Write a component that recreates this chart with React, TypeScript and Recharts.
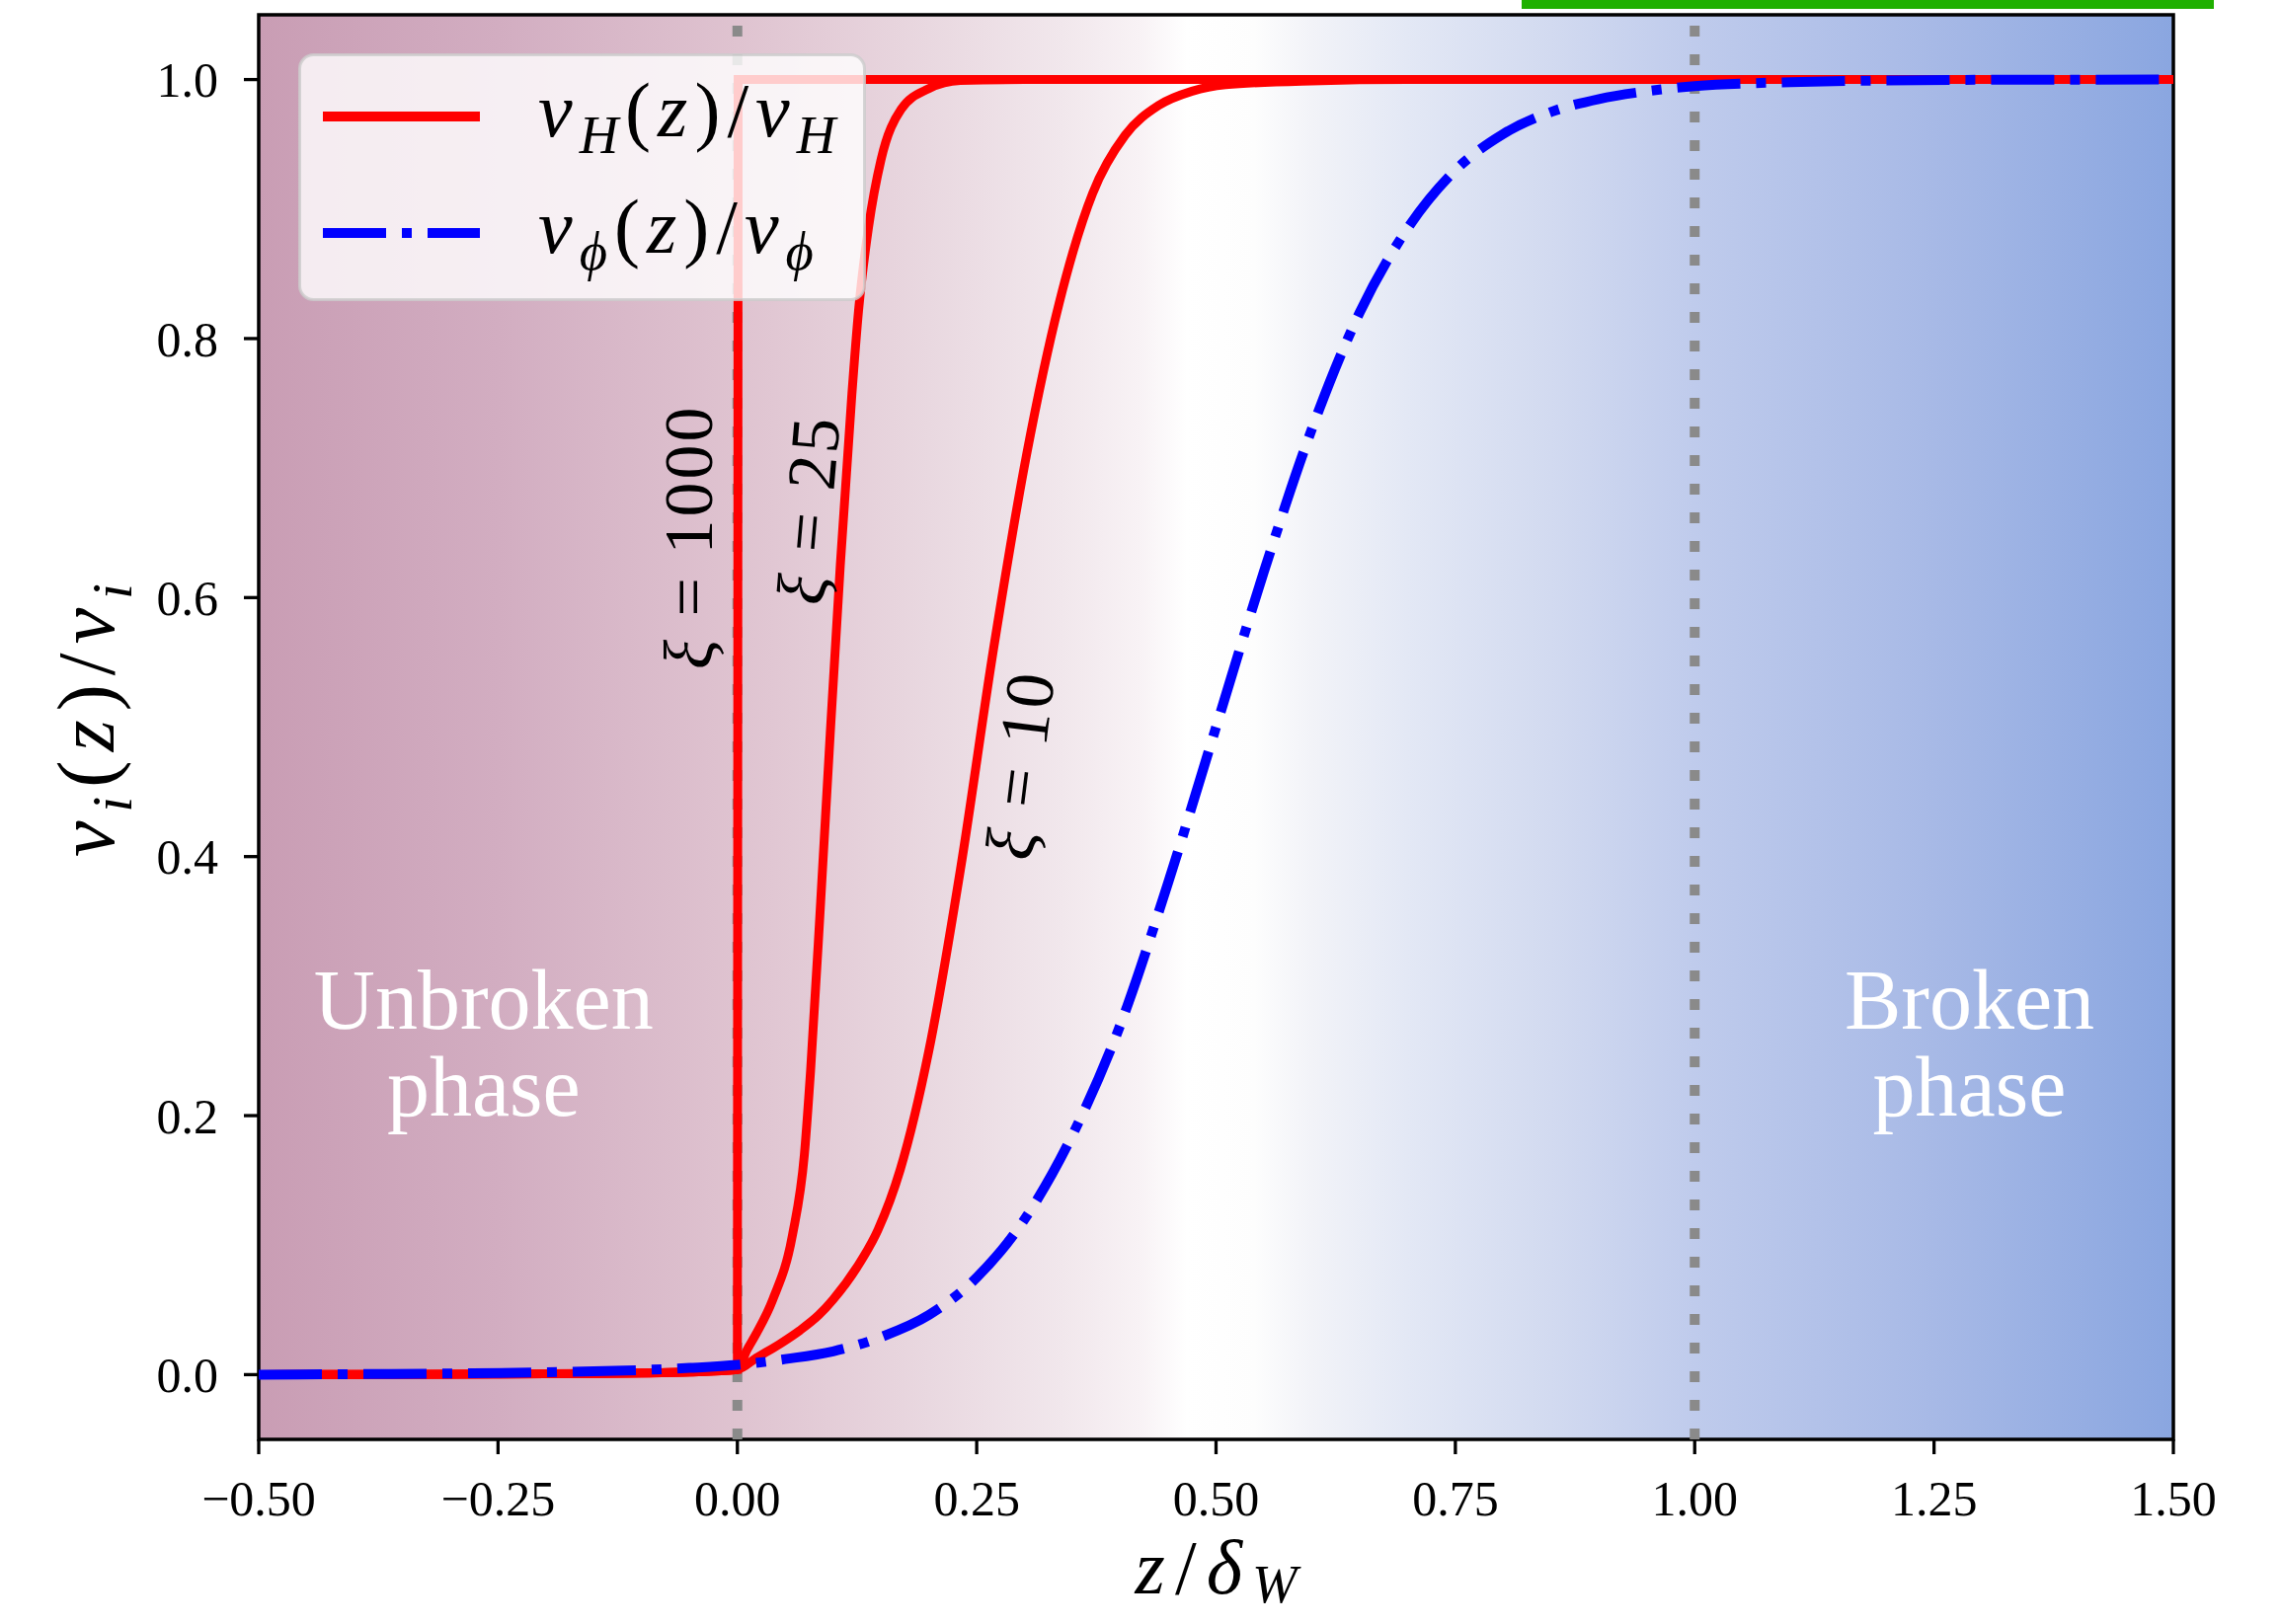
import React from 'react';
import {
  LineChart,
  Line,
  XAxis,
  YAxis,
  ReferenceArea,
  ReferenceLine,
  ReferenceDot,
  Legend,
  Label,
} from 'recharts';

const SERIF = '"Liberation Serif", "DejaVu Serif", serif';
const RED = '#ff0000';
const BLUE = '#0000ff';

// unbroken-side tail shared by every Higgs profile
const tailZ = [-0.5, -0.4, -0.3, -0.2, -0.1, -0.05, 0];
const higgsTail = [0, 0.0001, 0.0003, 0.0006, 0.0012, 0.002, 0.004];

// v_H(z)/v_H, xi = 1000 (steps up right at the wall)
const xi1000Z = [0.0008, 0.05, 1.5];
const xi1000V = [1, 1, 1];

// v_H(z)/v_H, xi = 25
const xi25Z = [0.01, 0.02, 0.037, 0.0576, 0.07, 0.0765, 0.087, 0.097, 0.1075, 0.1195, 0.1265, 0.137, 0.15, 0.171, 0.2, 0.233, 0.3, 1.5];
const xi25V = [0.019, 0.032, 0.058, 0.108, 0.17, 0.235, 0.365, 0.495, 0.625, 0.756, 0.821, 0.886, 0.938, 0.977, 0.993, 0.9993, 1, 1];

// v_H(z)/v_H, xi = 10
const xi10Z = [0.02, 0.045, 0.065, 0.085, 0.1, 0.125, 0.147, 0.17, 0.2, 0.233, 0.2675, 0.302, 0.336, 0.371, 0.405, 0.44, 0.475, 0.51, 0.6, 0.7, 1.5];
const xi10V = [0.013, 0.024, 0.034, 0.046, 0.058, 0.083, 0.112, 0.158, 0.25, 0.39, 0.56, 0.71, 0.827, 0.912, 0.957, 0.98, 0.991, 0.996, 0.999, 1, 1];

// v_phi(z)/v_phi
const phiZ = [-0.5, -0.4, -0.3, -0.2, -0.1, -0.05, 0, 0.05, 0.1, 0.15, 0.2, 0.25, 0.3, 0.35, 0.4, 0.45, 0.5, 0.55, 0.6, 0.65, 0.7, 0.75, 0.8, 0.85, 0.9, 0.95, 1.0, 1.1, 1.2, 1.3, 1.5];
const phiV = [0, 0.0004, 0.0009, 0.0018, 0.0036, 0.0052, 0.0075, 0.012, 0.018, 0.029, 0.046, 0.075, 0.12, 0.185, 0.27, 0.38, 0.5, 0.62, 0.73, 0.82, 0.885, 0.93, 0.958, 0.975, 0.985, 0.991, 0.995, 0.998, 0.9993, 0.9998, 1];

const xTicks = [-0.5, -0.25, 0, 0.25, 0.5, 0.75, 1, 1.25, 1.5];
const yTicks = [0, 0.2, 0.4, 0.6, 0.8, 1];
const wallMarks = [0, 1];

// xi annotations next to each Higgs curve
const curveLabels = [
  { xi: '1000', z: -0.051, v: 0.647, angle: -90 },
  { xi: '25', z: 0.074, v: 0.668, angle: -85 },
  { xi: '10', z: 0.295, v: 0.471, angle: -83 },
];

const phaseLabels = [
  { lines: ['Unbroken', 'phase'], z: -0.265, v: 0.267 },
  { lines: ['Broken', 'phase'], z: 1.287, v: 0.267 },
];

// background: unbroken (mauve) -> white -> broken (blue)
const bgStops: [string, string][] = [
  ['0%', '#c99db4'],
  ['12.5%', '#d2adc1'],
  ['25%', '#dfc3d0'],
  ['35%', '#e9d8e0'],
  ['42%', '#f1e7ec'],
  ['46%', '#f8f2f5'],
  ['48.5%', '#ffffff'],
  ['52%', '#fdfdfd'],
  ['55%', '#f2f3f8'],
  ['60%', '#e3e8f5'],
  ['67.5%', '#d2daf0'],
  ['75%', '#bfcbec'],
  ['87.5%', '#a7b9e6'],
  ['100%', '#8aa6e0'],
];

const toPoints = (zs: number[], vs: number[]) => zs.map((z, i) => ({ z, v: vs[i] }));

const higgs1000 = toPoints([...tailZ, ...xi1000Z], [...higgsTail, ...xi1000V]);
const higgs25 = toPoints([...tailZ, ...xi25Z], [...higgsTail, ...xi25V]);
const higgs10 = toPoints([...tailZ, ...xi10Z], [...higgsTail, ...xi10V]);
const phiProfile = toPoints(phiZ, phiV);

type Piece = { t: string; it?: boolean; sub?: boolean };

const MathText = ({ pieces, size, spacing = 0, subShift = 0.22, ...rest }: any) => {
  let lowered = false;
  const shift = size * subShift;
  return (
    <text {...rest} fontSize={size} fontFamily={SERIF} letterSpacing={spacing} fill="#000">
      {(pieces as Piece[]).map((p, i) => {
        let dy = 0;
        if (p.sub && !lowered) dy = shift;
        if (!p.sub && lowered) dy = -shift;
        lowered = !!p.sub;
        return (
          <tspan key={i} dy={dy || undefined} fontStyle={p.it ? 'italic' : 'normal'} fontSize={p.sub ? size * 0.7 : size}>
            {p.t}
          </tspan>
        );
      })}
    </text>
  );
};

const ratio = (v: string, sub: string): Piece[] => [
  { t: v, it: true },
  { t: sub, it: true, sub: true },
  { t: '(' },
  { t: 'z', it: true },
  { t: ')/' },
  { t: v, it: true },
  { t: sub, it: true, sub: true },
];

const legendRows = [
  { pieces: ratio('v', 'H'), color: RED, dash: undefined },
  { pieces: ratio('v', 'ϕ'), color: BLUE, dash: '64 16 10 16' },
];

const LegendBox = () => (
  <svg width={575} height={251} style={{ display: 'block' }}>
    <rect x={1.5} y={1.5} width={572} height={248} rx={14} fill="#ffffff" fillOpacity={0.8} stroke="#cccccc" strokeOpacity={0.8} strokeWidth={3} />
    {legendRows.map((row, i) => (
      <g key={i}>
        <line x1={25} x2={184} y1={64 + i * 118} y2={64 + i * 118} stroke={row.color} strokeWidth={10} strokeDasharray={row.dash} />
        <MathText pieces={row.pieces} size={78} spacing={7} x={243} y={84 + i * 118} />
      </g>
    ))}
  </svg>
);

const YTitle = ({ viewBox }: any) => {
  const x = viewBox.x + 13;
  const y = viewBox.y + viewBox.height / 2 - 11.5;
  return (
    <MathText
      pieces={ratio('v', 'i')}
      size={82}
      spacing={9}
      x={x}
      y={y}
      textAnchor="middle"
      transform={`rotate(-90 ${x} ${y})`}
    />
  );
};

const XTitle = ({ viewBox }: any) => (
  <MathText
    pieces={[{ t: 'z', it: true }, { t: '/' }, { t: 'δ', it: true }, { t: 'W', it: true, sub: true }]}
    size={78}
    spacing={10}
    subShift={0.12}
    x={viewBox.x + viewBox.width / 2 + 5}
    y={viewBox.y + 156}
    textAnchor="middle"
  />
);

const fmtX = (v: number) => (v < 0 ? '−' : '') + Math.abs(v).toFixed(2);
const fmtY = (v: number) => v.toFixed(1);

const tickStyle = { fill: '#000', fontSize: 50, fontFamily: SERIF };

const App: React.FC = () => {
  return (
    <div style={{ position: 'absolute', left: 0, top: 0, width: 2310, height: 1645, background: '#fff' }}>
      <div style={{ position: 'absolute', left: 1541, top: 0, width: 701, height: 9, background: '#1fb000' }} />
      <LineChart width={2310} height={1645} margin={{ top: 15, right: 109, bottom: 67, left: 102 }}>
        <defs>
          <linearGradient id="phaseBg" x1="0" x2="1" y1="0" y2="0">
            {bgStops.map(([o, c]) => (
              <stop key={o} offset={o} stopColor={c} />
            ))}
          </linearGradient>
        </defs>
        <XAxis
          dataKey="z"
          type="number"
          domain={[-0.5, 1.5]}
          ticks={xTicks}
          tickFormatter={fmtX}
          allowDataOverflow
          height={120}
          axisLine={false}
          tickSize={15}
          tickMargin={26}
          tickLine={{ stroke: '#000', strokeWidth: 3.3 }}
          tick={tickStyle}
        >
          <Label content={<XTitle />} />
        </XAxis>
        <YAxis
          type="number"
          domain={[-0.05, 1.05]}
          ticks={yTicks}
          tickFormatter={fmtY}
          allowDataOverflow
          width={160}
          axisLine={false}
          tickSize={15}
          tickMargin={26}
          tickLine={{ stroke: '#000', strokeWidth: 3.3 }}
          tick={tickStyle}
        >
          <Label content={<YTitle />} />
        </YAxis>
        <ReferenceArea x1={-0.5} x2={1.5} y1={-0.05} y2={1.05} fill="url(#phaseBg)" fillOpacity={1} stroke="none" />
        {wallMarks.map((z) => (
          <ReferenceLine key={z} x={z} stroke="#8a8a8a" strokeWidth={10} strokeDasharray="11 18" />
        ))}
        <Line data={higgs1000} dataKey="v" name="xi1000" type="linear" stroke={RED} strokeWidth={9} dot={false} activeDot={false} isAnimationActive={false} />
        <Line data={higgs25} dataKey="v" name="xi25" type="monotone" stroke={RED} strokeWidth={9} dot={false} activeDot={false} isAnimationActive={false} />
        <Line data={higgs10} dataKey="v" name="xi10" type="monotone" stroke={RED} strokeWidth={9} dot={false} activeDot={false} isAnimationActive={false} />
        <Line data={phiProfile} dataKey="v" name="phi" type="monotone" stroke={BLUE} strokeWidth={10} strokeDasharray="64 16 10 16" dot={false} activeDot={false} isAnimationActive={false} />
        <ReferenceArea x1={-0.5} x2={1.5} y1={-0.05} y2={1.05} fill="none" stroke="#000" strokeWidth={3.5} />
        {curveLabels.map((c) => (
          <ReferenceDot
            key={c.xi}
            x={c.z}
            y={c.v}
            r={0}
            shape={(p: any) => (
              <MathText
                pieces={[{ t: 'ξ', it: true }, { t: ' = ' + c.xi }]}
                size={70}
                spacing={3}
                x={p.cx}
                y={p.cy}
                textAnchor="middle"
                dominantBaseline="central"
                transform={`rotate(${c.angle} ${p.cx} ${p.cy})`}
              />
            )}
          />
        ))}
        {phaseLabels.map((l) => (
          <ReferenceDot
            key={l.lines[0]}
            x={l.z}
            y={l.v}
            r={0}
            shape={(p: any) => (
              <text x={p.cx} y={p.cy} textAnchor="middle" fill="#ffffff" fontSize={86} fontFamily={SERIF}>
                {l.lines.map((t, i) => (
                  <tspan key={t} x={p.cx} dy={i === 0 ? 0 : 88}>
                    {t}
                  </tspan>
                ))}
              </text>
            )}
          />
        ))}
        <Legend
          content={() => <LegendBox />}
          layout="vertical"
          align="center"
          verticalAlign="middle"
          wrapperStyle={{ left: 302, top: 54, width: 575, height: 251 }}
        />
      </LineChart>
    </div>
  );
};

export default App;
